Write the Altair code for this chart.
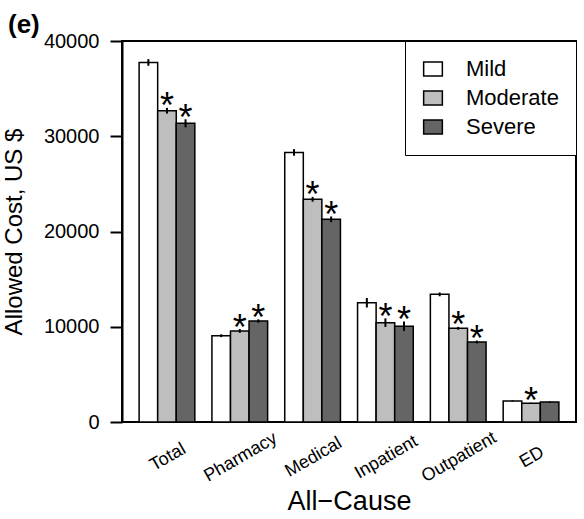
import altair as alt
import pandas as pd

categories = ["Total", "Pharmacy", "Medical", "Inpatient", "Outpatient", "ED"]
severities = ["Mild", "Moderate", "Severe"]
colors = ["#FFFFFF", "#BEBEBE", "#656565"]

mild = [37750, 9060, 28300, 12520, 13400, 2210]
moderate = [32680, 9560, 23380, 10430, 9840, 1960]
severe = [31360, 10600, 21280, 10050, 8400, 2100]

mild_err = [350, 150, 350, 500, 200, 60]
moderate_err = [300, 200, 250, 450, 150, 60]
severe_err = [420, 180, 300, 500, 150, 60]

moderate_sig = [True, True, True, True, True, True]
severe_sig = [True, True, True, True, True, False]
mild_sig = [False] * 6

rows = []
for sev, vals, errs, sigs in [
    ("Mild", mild, mild_err, mild_sig),
    ("Moderate", moderate, moderate_err, moderate_sig),
    ("Severe", severe, severe_err, severe_sig),
]:
    for c, v, e, s in zip(categories, vals, errs, sigs):
        rows.append({"category": c, "severity": sev, "value": v,
                     "lo": v - e, "hi": v + e, "sig": s})
df = pd.DataFrame(rows)

FONT = "Liberation Sans"

x_enc = alt.X(
    "category:N", sort=categories,
    scale=alt.Scale(paddingInner=0.235, paddingOuter=0.235),
    axis=alt.Axis(
        title="All\u2212Cause", titleFontSize=27, titleFontWeight="normal",
        titleColor="black", titlePadding=3,
        labelAngle=330, labelAlign="center", labelBaseline="middle",
        labelOffset=1, labelPadding=35, labelFontSize=18, labelColor="black",
        ticks=False, domain=False, grid=False,
    ),
)
xo_enc = alt.XOffset("severity:N", sort=severities,
                     scale=alt.Scale(paddingInner=0, paddingOuter=0))

y_scale = alt.Scale(domain=[0, 40000], nice=False)
y_axis = alt.Axis(
    title="Allowed Cost, US $", titleFontSize=24, titleFontWeight="normal",
    titleColor="black", titlePadding=17,
    values=[0, 10000, 20000, 30000, 40000], format="d",
    labelFontSize=20, labelColor="black", labelPadding=11,
    tickSize=12, tickWidth=2, tickColor="black",
    domainColor="black", domainWidth=2, grid=False,
)

base = alt.Chart(df)

bars = base.mark_bar(stroke="black", strokeWidth=1.5).encode(
    x=x_enc,
    xOffset=xo_enc,
    y=alt.Y("value:Q", scale=y_scale, axis=y_axis),
    fill=alt.Fill(
        "severity:N", sort=severities,
        scale=alt.Scale(domain=severities, range=colors),
        legend=alt.Legend(
            title=None, orient="top-right", offset=0,
            fillColor="white", strokeColor="black", padding=17,
            symbolType="M-1,-0.75H1V0.75H-1Z", symbolSize=350,
            symbolStrokeColor="black", symbolStrokeWidth=1.5,
            symbolOpacity=1, labelFontSize=22, labelColor="black",
            labelOffset=22, rowPadding=7, labelFont=FONT,
        ),
    ),
)

errs = base.mark_rule(color="black", strokeWidth=2).encode(
    x=alt.X("category:N", sort=categories),
    xOffset=alt.XOffset("severity:N", sort=severities),
    y=alt.Y("lo:Q"),
    y2=alt.Y2("hi:Q"),
)

stars = base.transform_filter("datum.sig").mark_text(
    text="*", fontSize=36, font=FONT, baseline="alphabetic", dy=10.5, color="black"
).encode(
    x=alt.X("category:N", sort=categories),
    xOffset=alt.XOffset("severity:N", sort=severities),
    y=alt.Y("hi:Q"),
)

chart = alt.layer(bars, errs, stars).properties(
    width=454, height=381,
    title=alt.TitleParams("(e)", anchor="start", frame="group", dx=-114, offset=-7,
                          fontSize=26, fontWeight="bold", font=FONT, color="black"),
    autosize=alt.AutoSizeParams(type="none"),
    padding={"left": 122, "top": 41, "right": 8, "bottom": 97},
).configure(font=FONT).configure_view(
    stroke="black", strokeWidth=2
).configure_axis(labelFont=FONT, titleFont=FONT)

chart.save("out.html", embed_options={"renderer": "svg", "actions": False})
